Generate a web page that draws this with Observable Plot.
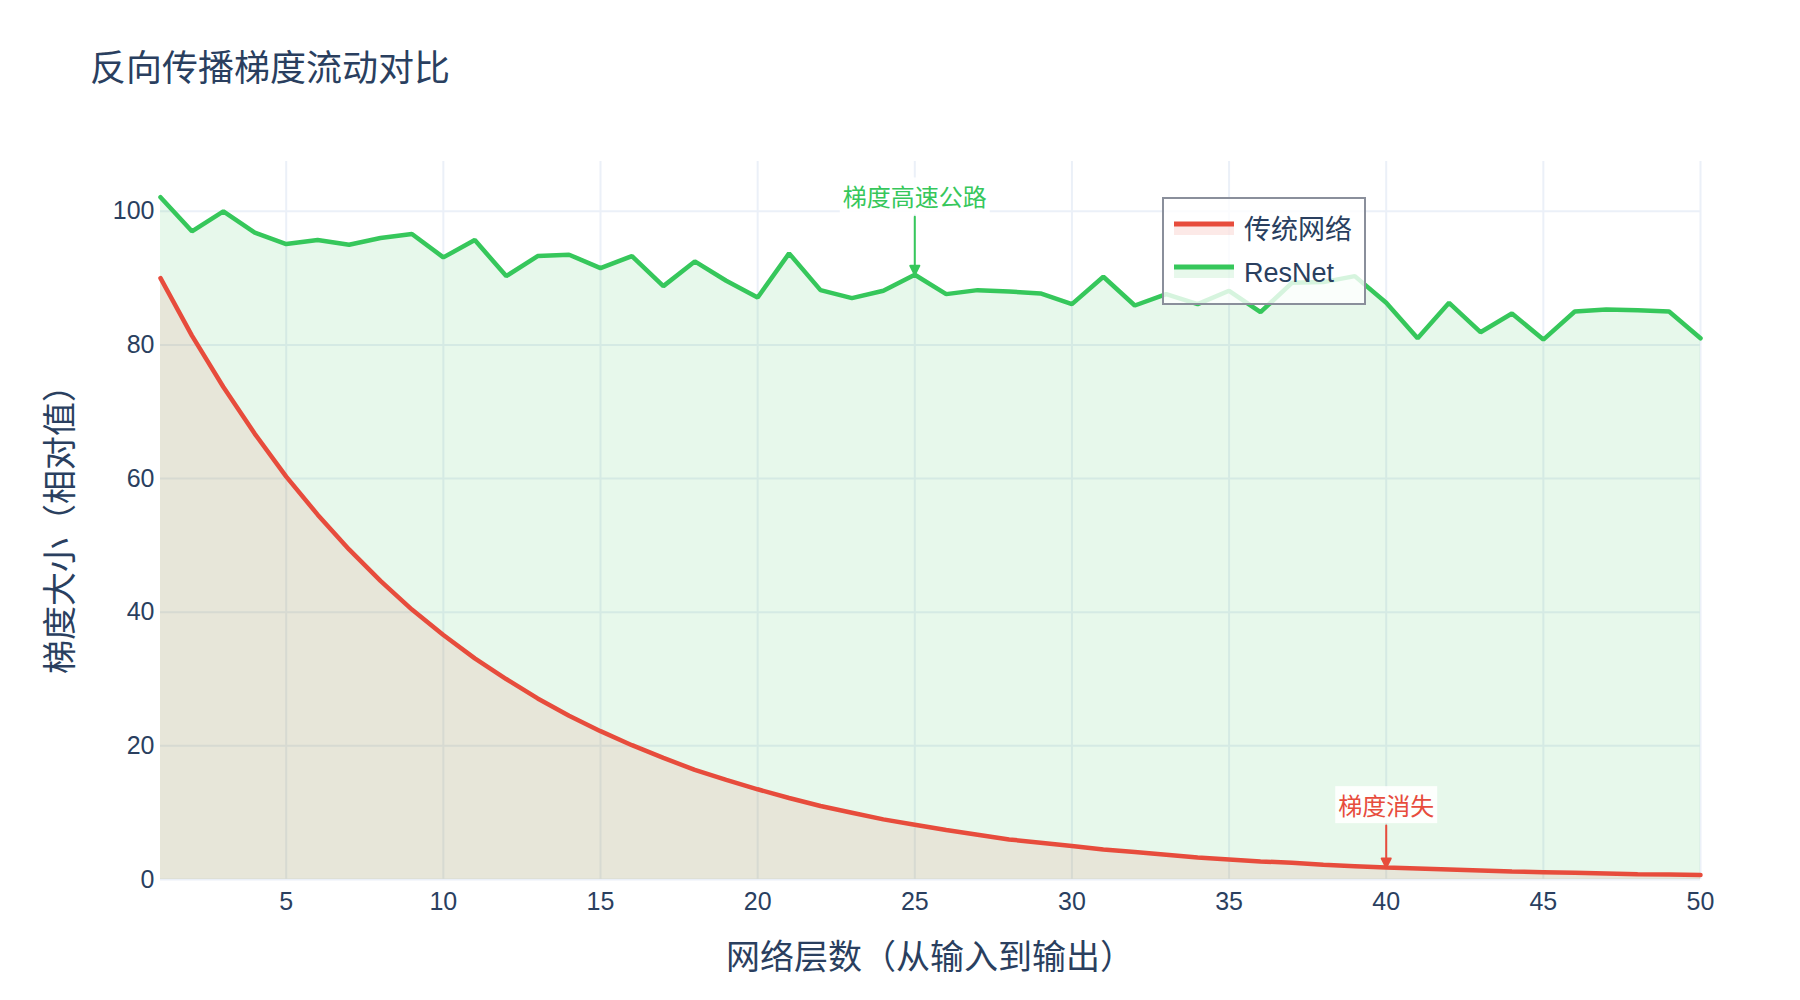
<!DOCTYPE html>
<html>
<head>
<meta charset="utf-8">
<script src="https://cdn.jsdelivr.net/npm/d3@7"></script>
<script src="https://cdn.jsdelivr.net/npm/@observablehq/plot@0.6"></script>
<style>
  body { margin: 0; background: #fff; }
  #wrap {
    position: relative; width: 1800px; height: 1000px;
    font-family: "Liberation Sans", "Noto Sans CJK SC", sans-serif;
    color: #2a3f5f;
  }
  #chart { position: absolute; left: 0; top: 0; }
  .title { position: absolute; left: 90px; top: 46px; font-size: 36px; line-height: 46px; white-space: nowrap; }
  .xtitle { position: absolute; left: 160px; width: 1540px; top: 937px; text-align: center; font-size: 34px; line-height: 40px; white-space: nowrap; }
  .ytitle { position: absolute; left: 60px; top: 521px; transform: translate(-50%, -50%) rotate(-90deg); font-size: 34px; line-height: 40px; white-space: nowrap; }
  #legend {
    position: absolute; left: 1162px; top: 197px; width: 204px; height: 108px; box-sizing: border-box;
    border: 2px solid #8a8f9b; background: rgba(255, 255, 255, 0.8);
  }
  #legend svg { position: absolute; left: 9px; top: 0; }
  #legend span { position: absolute; left: 80px; font-size: 27px; line-height: 30px; white-space: nowrap; }
</style>
</head>
<body>
<div id="wrap">
  <div id="chart"></div>
  <div class="title">反向传播梯度流动对比</div>
  <div class="xtitle">网络层数（从输入到输出）</div>
  <div class="ytitle">梯度大小（相对值）</div>
  <div id="legend"></div>
</div>
<script>
// Layer index (input → output)
const layers = [1, 2, 3, 4, 5, 6, 7, 8, 9, 10, 11, 12, 13, 14, 15, 16, 17, 18, 19, 20,
  21, 22, 23, 24, 25, 26, 27, 28, 29, 30, 31, 32, 33, 34, 35, 36, 37, 38, 39, 40,
  41, 42, 43, 44, 45, 46, 47, 48, 49, 50];

// Relative gradient magnitude, plain deep network
const plainGrad = [90.0, 81.4, 73.7, 66.7, 60.3, 54.6, 49.4, 44.7, 40.4, 36.6,
  33.1, 30.0, 27.1, 24.5, 22.2, 20.1, 18.2, 16.4, 14.9, 13.5,
  12.2, 11.0, 10.0, 9.0, 8.2, 7.4, 6.7, 6.0, 5.5, 5.0,
  4.5, 4.1, 3.7, 3.3, 3.0, 2.7, 2.5, 2.2, 2.0, 1.8,
  1.65, 1.5, 1.35, 1.2, 1.1, 1.0, 0.9, 0.8, 0.74, 0.67];

// Relative gradient magnitude, ResNet
const resnetGrad = [102.1, 97.0, 100.0, 96.8, 95.1, 95.7, 95.0, 96.0, 96.6, 93.1,
  95.7, 90.3, 93.3, 93.5, 91.5, 93.3, 88.8, 92.5, 89.6, 87.1,
  93.7, 88.2, 87.0, 88.1, 90.5, 87.6, 88.2, 88.0, 87.7, 86.1,
  90.2, 85.9, 87.6, 86.1, 88.1, 84.9, 89.3, 89.4, 90.3, 86.3,
  81.0, 86.3, 81.9, 84.7, 80.8, 85.0, 85.3, 85.2, 85.0, 81.0];

const seriesNames = ["传统网络", "ResNet"];
const xTicks = [5, 10, 15, 20, 25, 30, 35, 40, 45, 50];
const yTicks = [0, 20, 40, 60, 80, 100];

// Callouts: layer, series, text
const notes = [
  {layer: 25, series: "ResNet", text: "梯度高速公路", lift: 58, gap: 76},
  {layer: 40, series: "传统网络", text: "梯度消失", lift: 42, gap: 60}
];

const RED = "#e74c3c";
const GREEN = "#36c75b";
const colorOf = {"传统网络": RED, "ResNet": GREEN};

const rows = layers.map((layer, i) => ({layer, plain: plainGrad[i], resnet: resnetGrad[i]}));
const noteRows = notes.map(n => ({
  ...n,
  value: (n.series === "ResNet" ? resnetGrad : plainGrad)[layers.indexOf(n.layer)],
  color: colorOf[n.series]
}));

// Arrow with a small filled head at the tip
const arrowHead = {
  draw(context, l) {
    context.moveTo(0, 0);
    context.lineTo(0, -l + 6);
    context.moveTo(0, -l);
    context.lineTo(-4.5, -l + 9);
    context.lineTo(4.5, -l + 9);
    context.closePath();
  }
};

const gridStyle = {stroke: "#ebf0f8", strokeOpacity: 1, strokeWidth: 2};

const chart = Plot.plot({
  width: 1800,
  height: 1000,
  marginTop: 161,
  marginBottom: 121,
  marginLeft: 160,
  marginRight: 100,
  x: {domain: [1, 50]},
  y: {domain: [0, 107.45]},
  style: {
    fontFamily: '"Liberation Sans", "Noto Sans CJK SC", sans-serif',
    fontSize: "25px",
    color: "#2a3f5f",
    background: "transparent",
    overflow: "visible"
  },
  marks: [
    Plot.gridX(xTicks, gridStyle),
    Plot.gridY(yTicks, gridStyle),
    Plot.areaY(rows, {x: "layer", y: "resnet", fill: GREEN, fillOpacity: 0.12}),
    Plot.areaY(rows, {x: "layer", y: "plain", fill: RED, fillOpacity: 0.1}),
    Plot.lineY(rows, {x: "layer", y: "plain", stroke: RED, strokeWidth: 4.5, strokeLinejoin: "miter"}),
    Plot.lineY(rows, {x: "layer", y: "resnet", stroke: GREEN, strokeWidth: 4.5, strokeLinejoin: "miter"}),
    Plot.axisX(xTicks, {tickSize: 0, tickPadding: 13, fontSize: 25, label: null}),
    Plot.axisY(yTicks, {tickSize: 0, tickPadding: 6, fontSize: 25, label: null}),
    ...noteRows.map(n => Plot.vector([n], {
      x: "layer", y: "value", length: n.lift, rotate: 180, anchor: "end",
      shape: arrowHead, stroke: n.color, fill: n.color, strokeWidth: 2
    })),
    ...noteRows.map(n => Plot.text([n], {
      x: "layer", y: "value", text: "text", dy: -n.gap,
      fill: n.color, fontSize: 24, fontFamily: '"Noto Sans CJK SC", sans-serif'
    }))
  ]
});

document.getElementById("chart").appendChild(chart);

// White boxes behind the callout texts
chart.querySelectorAll('g[aria-label="text"] text').forEach(t => {
  const bb = t.getBBox();
  const pad = 3;
  const r = document.createElementNS("http://www.w3.org/2000/svg", "rect");
  r.setAttribute("x", bb.x - pad);
  r.setAttribute("y", bb.y - 1);
  r.setAttribute("width", bb.width + 2 * pad);
  r.setAttribute("height", bb.height + 2);
  r.setAttribute("fill", "rgba(255,255,255,0.9)");
  const tr = t.getAttribute("transform");
  if (tr) r.setAttribute("transform", tr);
  t.parentNode.insertBefore(r, t);
});

// Legend
const legend = document.getElementById("legend");
const swatchY = [25, 68];
const ns = "http://www.w3.org/2000/svg";
const sw = document.createElementNS(ns, "svg");
sw.setAttribute("width", 62);
sw.setAttribute("height", 104);
seriesNames.forEach((name, i) => {
  const c = colorOf[name];
  const rect = document.createElementNS(ns, "rect");
  rect.setAttribute("x", 1); rect.setAttribute("y", swatchY[i]);
  rect.setAttribute("width", 60); rect.setAttribute("height", 11);
  rect.setAttribute("fill", c); rect.setAttribute("fill-opacity", 0.12);
  sw.appendChild(rect);
  const line = document.createElementNS(ns, "line");
  line.setAttribute("x1", 1); line.setAttribute("x2", 61);
  line.setAttribute("y1", swatchY[i]); line.setAttribute("y2", swatchY[i]);
  line.setAttribute("stroke", c); line.setAttribute("stroke-width", 5);
  sw.appendChild(line);
  const label = document.createElement("span");
  label.textContent = name;
  label.style.top = (swatchY[i] + 6 - 15) + "px";
  legend.appendChild(label);
});
legend.appendChild(sw);
</script>
</body>
</html>
